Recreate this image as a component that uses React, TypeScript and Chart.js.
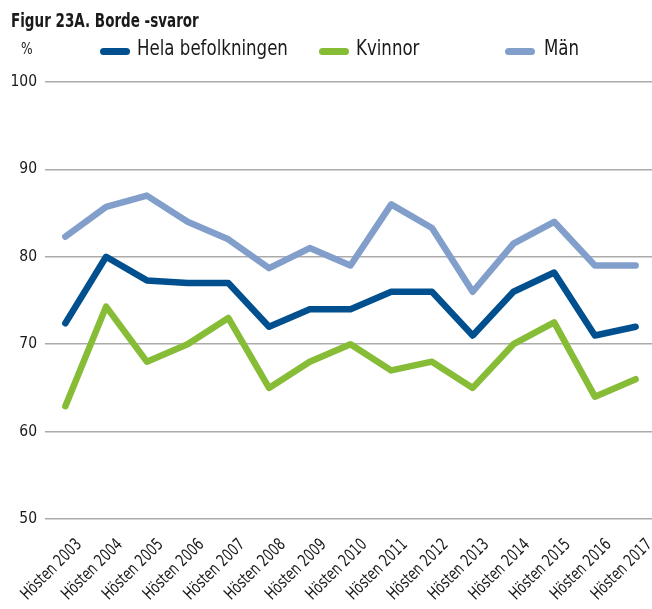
import React, { useEffect, useRef } from "react";
import { Chart, registerables } from "chart.js";

Chart.register(...registerables);

const categories = [
  "Hösten 2003", "Hösten 2004", "Hösten 2005", "Hösten 2006", "Hösten 2007",
  "Hösten 2008", "Hösten 2009", "Hösten 2010", "Hösten 2011", "Hösten 2012",
  "Hösten 2013", "Hösten 2014", "Hösten 2015", "Hösten 2016", "Hösten 2017",
];
const helaBefolkningen = [72.4, 80, 77.3, 77, 77, 72, 74, 74, 76, 76, 71, 76, 78.2, 71, 72];
const kvinnor = [62.9, 74.3, 68, 70, 73, 65, 68, 70, 67, 68, 65, 70, 72.5, 64, 66];
const man = [82.3, 85.7, 87, 84, 82, 78.7, 81, 79, 86, 83.3, 76, 81.5, 84, 79, 79];
const seriesNames = ["Hela befolkningen", "Kvinnor", "Män"];
const seriesColors = ["#00508F", "#86BC36", "#829FCB"];
const yTicks = [50, 60, 70, 80, 90, 100];
const titleText = "Figur 23A. Borde -svaror";
const unitText = "%";

const FONT = "'DejaVu Sans Condensed', 'DejaVu Sans', sans-serif";
const TEXT = "#1a1a1a";

// Draws rotated, horizontally condensed category labels under the x axis
const condensedXLabels = {
  id: "condensedXLabels",
  afterDraw(chart: any) {
    const xs = chart.scales.x;
    const ctx = chart.ctx;
    const labels: string[] = chart.data.labels;
    ctx.save();
    ctx.fillStyle = TEXT;
    ctx.font = `17px ${FONT}`;
    ctx.textAlign = "right";
    ctx.textBaseline = "top";
    labels.forEach((lab, i) => {
      const x = xs.getPixelForTick(i);
      ctx.save();
      ctx.translate(x + 8, xs.top + 17);
      ctx.rotate(-Math.PI / 4);
      ctx.scale(0.8, 1);
      ctx.fillText(lab, 0, 0);
      ctx.restore();
    });
    ctx.restore();
  },
};

export default function App() {
  const ref = useRef<HTMLCanvasElement>(null);

  useEffect(() => {
    document.body.style.margin = "0";
    const seriesData = [helaBefolkningen, kvinnor, man];
    const chart = new Chart(ref.current!, {
      type: "line",
      data: {
        labels: categories,
        datasets: seriesData.map((d, i) => ({
          label: seriesNames[i],
          data: d,
          borderColor: seriesColors[i],
          backgroundColor: seriesColors[i],
          borderWidth: 6.5,
          pointRadius: 0,
          borderCapStyle: "round" as const,
          borderJoinStyle: "round" as const,
          tension: 0,
        })),
      },
      options: {
        animation: false,
        responsive: false,
        layout: { padding: { top: 82, left: 0, right: 0, bottom: 0 } },
        plugins: {
          legend: { display: false },
          tooltip: { enabled: false },
        },
        scales: {
          x: {
            offset: true,
            grid: { display: false },
            border: { display: false },
            ticks: { display: false, autoSkip: false },
            afterFit: (s: any) => { s.height = 90; },
          },
          y: {
            min: 50,
            max: 100,
            afterBuildTicks: (s: any) => { s.ticks = yTicks.map((v) => ({ value: v })); },
            grid: {
              color: "#ababab",
              lineWidth: 1.6,
              drawTicks: false,
            },
            border: { display: false },
            ticks: {
              padding: 8,
              color: TEXT,
              font: { family: FONT, size: 15.5 },
            },
            afterFit: (s: any) => { s.width = 45; },
          },
        },
      },
      plugins: [condensedXLabels],
    });
    return () => chart.destroy();
  }, []);

  const markerLeft = [100, 319, 505];
  const textLeft = [137, 356, 544];

  return (
    <div style={{ position: "relative", width: 652, height: 609, overflow: "hidden", fontFamily: FONT, color: TEXT }}>
      <canvas ref={ref} width={656} height={609} style={{ position: "absolute", left: 0, top: 0 }} />
      <div style={{ position: "absolute", left: 11, top: 10.5, fontSize: 19, lineHeight: "19px", fontWeight: "bold", whiteSpace: "nowrap", transform: "scaleX(0.79)", transformOrigin: "left center" }}>
        {titleText}
      </div>
      <div style={{ position: "absolute", left: 21, top: 41, fontSize: 16, lineHeight: "16px", whiteSpace: "nowrap", transform: "scaleX(0.85)", transformOrigin: "left center" }}>{unitText}</div>
      {seriesNames.map((n, i) => (
        <React.Fragment key={n}>
          <span style={{ position: "absolute", left: markerLeft[i], top: 47.5, width: 30, height: 7, borderRadius: 4, background: seriesColors[i] }} />
          <span style={{ position: "absolute", left: textLeft[i], top: 38, fontSize: 21, lineHeight: "21px", whiteSpace: "nowrap", transform: "scaleX(0.88)", transformOrigin: "left center" }}>{n}</span>
        </React.Fragment>
      ))}
    </div>
  );
}
